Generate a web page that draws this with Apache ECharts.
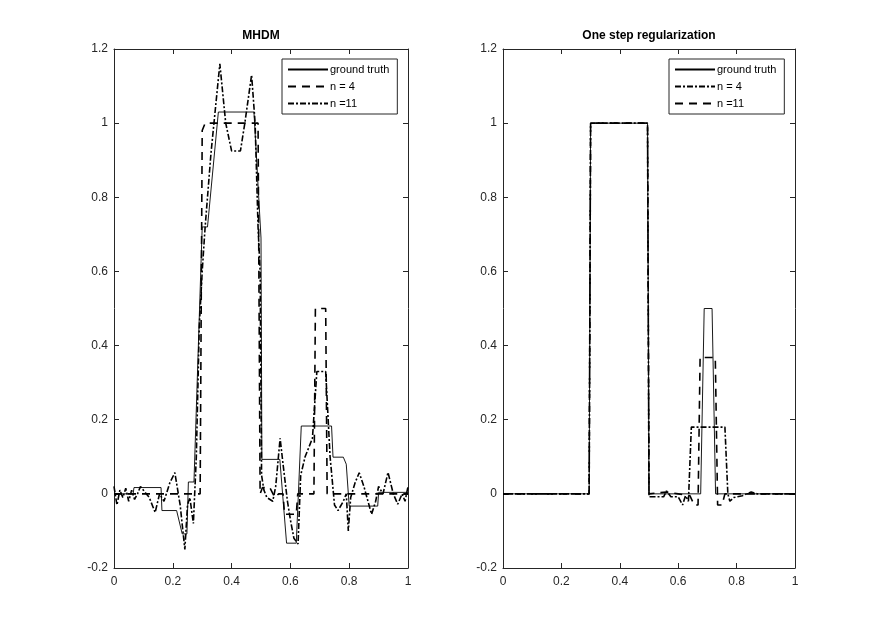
<!DOCTYPE html>
<html><head><meta charset="utf-8">
<script src="https://cdn.jsdelivr.net/npm/echarts@6/dist/echarts.min.js"></script>
<style>html,body{margin:0;padding:0;background:#fff}#c{width:880px;height:640px}</style>
</head><body><div id="c"></div>
<script>
// tick values
const xTicks = [0, 0.2, 0.4, 0.6, 0.8, 1];
const yTicks = [-0.2, 0, 0.2, 0.4, 0.6, 0.8, 1, 1.2];
const legendNames = ['ground truth', 'n = 4', 'n =11'];
const titles = ['MHDM', 'One step regularization'];

// Left panel (MHDM): [x, y]
const leftTruth = [[0,0],[0.065,0],[0.068,0.017],[0.16,0.017],[0.163,-0.045],[0.213,-0.045],[0.232,-0.108],[0.248,-0.108],[0.253,0.032],[0.272,0.032],[0.3,0.72],[0.318,0.72],[0.355,1.03],[0.476,1.03],[0.5,0.69],[0.503,0.093],[0.564,0.093],[0.587,-0.133],[0.62,-0.133],[0.637,0.183],[0.74,0.183],[0.745,0.099],[0.78,0.099],[0.79,0.08],[0.8,-0.033],[0.897,-0.033],[0.9,0.004],[1,0.004]];
const leftN4 = [[0,0],[0.285,0],[0.293,0],[0.3,0.98],[0.31,1.0],[0.49,1.0],[0.497,0],[0.505,0.017],[0.53,0.017],[0.547,-0.01],[0.56,0],[0.575,0],[0.58,-0.055],[0.62,-0.055],[0.625,0],[0.68,0],[0.685,0.5],[0.72,0.5],[0.725,0],[1,0]];
const leftN11 = [[0,0.02],[0.01,-0.03],[0.02,0.01],[0.03,-0.01],[0.04,0.015],[0.05,-0.02],[0.06,0.01],[0.07,-0.015],[0.08,0.0],[0.09,0.02],[0.1,0.01],[0.12,-0.01],[0.14,-0.05],[0.155,0.0],[0.17,-0.02],[0.19,0.03],[0.207,0.057],[0.225,-0.03],[0.241,-0.15],[0.25,-0.03],[0.258,-0.01],[0.27,-0.08],[0.28,0.1],[0.29,0.45],[0.3,0.6],[0.31,0.72],[0.33,0.92],[0.36,1.16],[0.38,1.0],[0.4,0.925],[0.43,0.925],[0.445,1.0],[0.468,1.13],[0.48,1.0],[0.49,0.72],[0.497,0.6],[0.502,0.05],[0.51,0.01],[0.52,-0.01],[0.54,-0.02],[0.55,0.02],[0.565,0.15],[0.575,0.08],[0.59,-0.02],[0.6,-0.07],[0.612,-0.12],[0.626,-0.135],[0.635,0.05],[0.65,0.1],[0.675,0.15],[0.69,0.33],[0.72,0.33],[0.735,0.1],[0.75,-0.03],[0.762,-0.045],[0.78,-0.02],[0.79,0.0],[0.797,-0.1],[0.805,-0.01],[0.82,0.03],[0.834,0.057],[0.85,0.02],[0.876,-0.055],[0.89,-0.02],[0.9,0.02],[0.915,0.0],[0.932,0.058],[0.95,0.0],[0.965,-0.028],[0.98,0.0],[0.99,-0.02],[1,0.02]];

// Right panel (One step regularization): [x, y]
const rightTruth = [[0,0],[0.295,0],[0.3,1],[0.495,1],[0.5,0],[0.677,0],[0.689,0.5],[0.716,0.5],[0.728,0],[1,0]];
const rightN4 = [[0,0],[0.295,0],[0.3,1],[0.495,1],[0.5,-0.008],[0.55,-0.008],[0.56,0.008],[0.575,-0.008],[0.6,-0.008],[0.615,-0.03],[0.625,-0.005],[0.635,-0.02],[0.645,0.18],[0.76,0.18],[0.77,0.0],[0.777,-0.02],[0.79,-0.01],[0.82,-0.005],[0.85,0.005],[0.87,0],[1,0]];
const rightN11 = [[0,0],[0.295,0],[0.3,1],[0.495,1],[0.5,0],[0.56,0.005],[0.6,0],[0.64,-0.005],[0.655,-0.03],[0.668,-0.03],[0.675,0.368],[0.727,0.368],[0.735,-0.03],[0.75,-0.03],[0.76,0],[1,0]];

const axisColor = '#262626';
const font = 'Liberation Sans, Arial, Helvetica, sans-serif';
const DASH = [8, 6];
const DASHDOT = [6, 2, 2, 2];

function xAx(gi, pos) {
  return {
    type: 'value', gridIndex: gi, position: pos, min: 0, max: 1, interval: 0.2,
    axisLine: {show: true, onZero: false, lineStyle: {color: axisColor, width: 1}},
    axisTick: {show: true, inside: true, length: 5, lineStyle: {color: axisColor}},
    axisLabel: {show: pos === 'bottom', color: axisColor, fontSize: 12, fontFamily: font, margin: 8},
    splitLine: {show: false}
  };
}
function yAx(gi, pos) {
  return {
    type: 'value', gridIndex: gi, position: pos, min: -0.2, max: 1.2, interval: 0.2,
    axisLine: {show: true, onZero: false, lineStyle: {color: axisColor, width: 1}},
    axisTick: {show: true, inside: true, length: 5, lineStyle: {color: axisColor}},
    axisLabel: {show: pos === 'left', color: axisColor, fontSize: 12, fontFamily: font, margin: 6},
    splitLine: {show: false}
  };
}
function ser(name, data, gi, type, width) {
  return {
    name: name, type: 'line', data: data, xAxisIndex: gi * 2, yAxisIndex: gi * 2,
    symbol: 'none', animation: false, silent: true,
    itemStyle: {color: '#000'},
    lineStyle: {color: '#000', width: width, type: type}
  };
}
function legend(gi, left) {
  return {
    orient: 'vertical', left: left, top: 59, itemWidth: 40, itemHeight: 10, itemGap: 6,
    padding: [5, 8, 5, 5], borderColor: axisColor, borderWidth: 1, backgroundColor: '#fff',
    selectedMode: false,
    itemStyle: {opacity: 0, borderWidth: 0},
    textStyle: {color: '#000', fontSize: 11, fontFamily: font, padding: [0, 0, 0, -3]},
    data: legendNames.map(n => (gi ? 'R:' : '') + n),
    formatter: n => n.replace(/^R:/, '')
  };
}

const chart = echarts.init(document.getElementById('c'));
chart.setOption({
  backgroundColor: '#fff',
  animation: false,
  title: [
    {text: titles[0], left: 261, top: 30, textAlign: 'center', padding: 0,
     textStyle: {fontSize: 12, fontWeight: 'bold', color: '#000', fontFamily: font}},
    {text: titles[1], left: 649, top: 30, textAlign: 'center', padding: 0,
     textStyle: {fontSize: 12, fontWeight: 'bold', color: '#000', fontFamily: font}}
  ],
  grid: [
    {left: 114, top: 49, width: 294, height: 519},
    {left: 503, top: 49, width: 292, height: 519}
  ],
  xAxis: [xAx(0, 'bottom'), xAx(0, 'top'), xAx(1, 'bottom'), xAx(1, 'top')],
  yAxis: [yAx(0, 'left'), yAx(0, 'right'), yAx(1, 'left'), yAx(1, 'right')],
  legend: [legend(0, 282), legend(1, 669)],
  series: [
    ser(legendNames[0], leftTruth, 0, 'solid', 0.9),
    ser(legendNames[1], leftN4, 0, DASH, 1.6),
    ser(legendNames[2], leftN11, 0, DASHDOT, 1.6),
    ser('R:' + legendNames[0], rightTruth, 1, 'solid', 0.9),
    ser('R:' + legendNames[1], rightN4, 1, DASHDOT, 1.6),
    ser('R:' + legendNames[2], rightN11, 1, DASH, 1.6)
  ]
});
</script></body></html>
